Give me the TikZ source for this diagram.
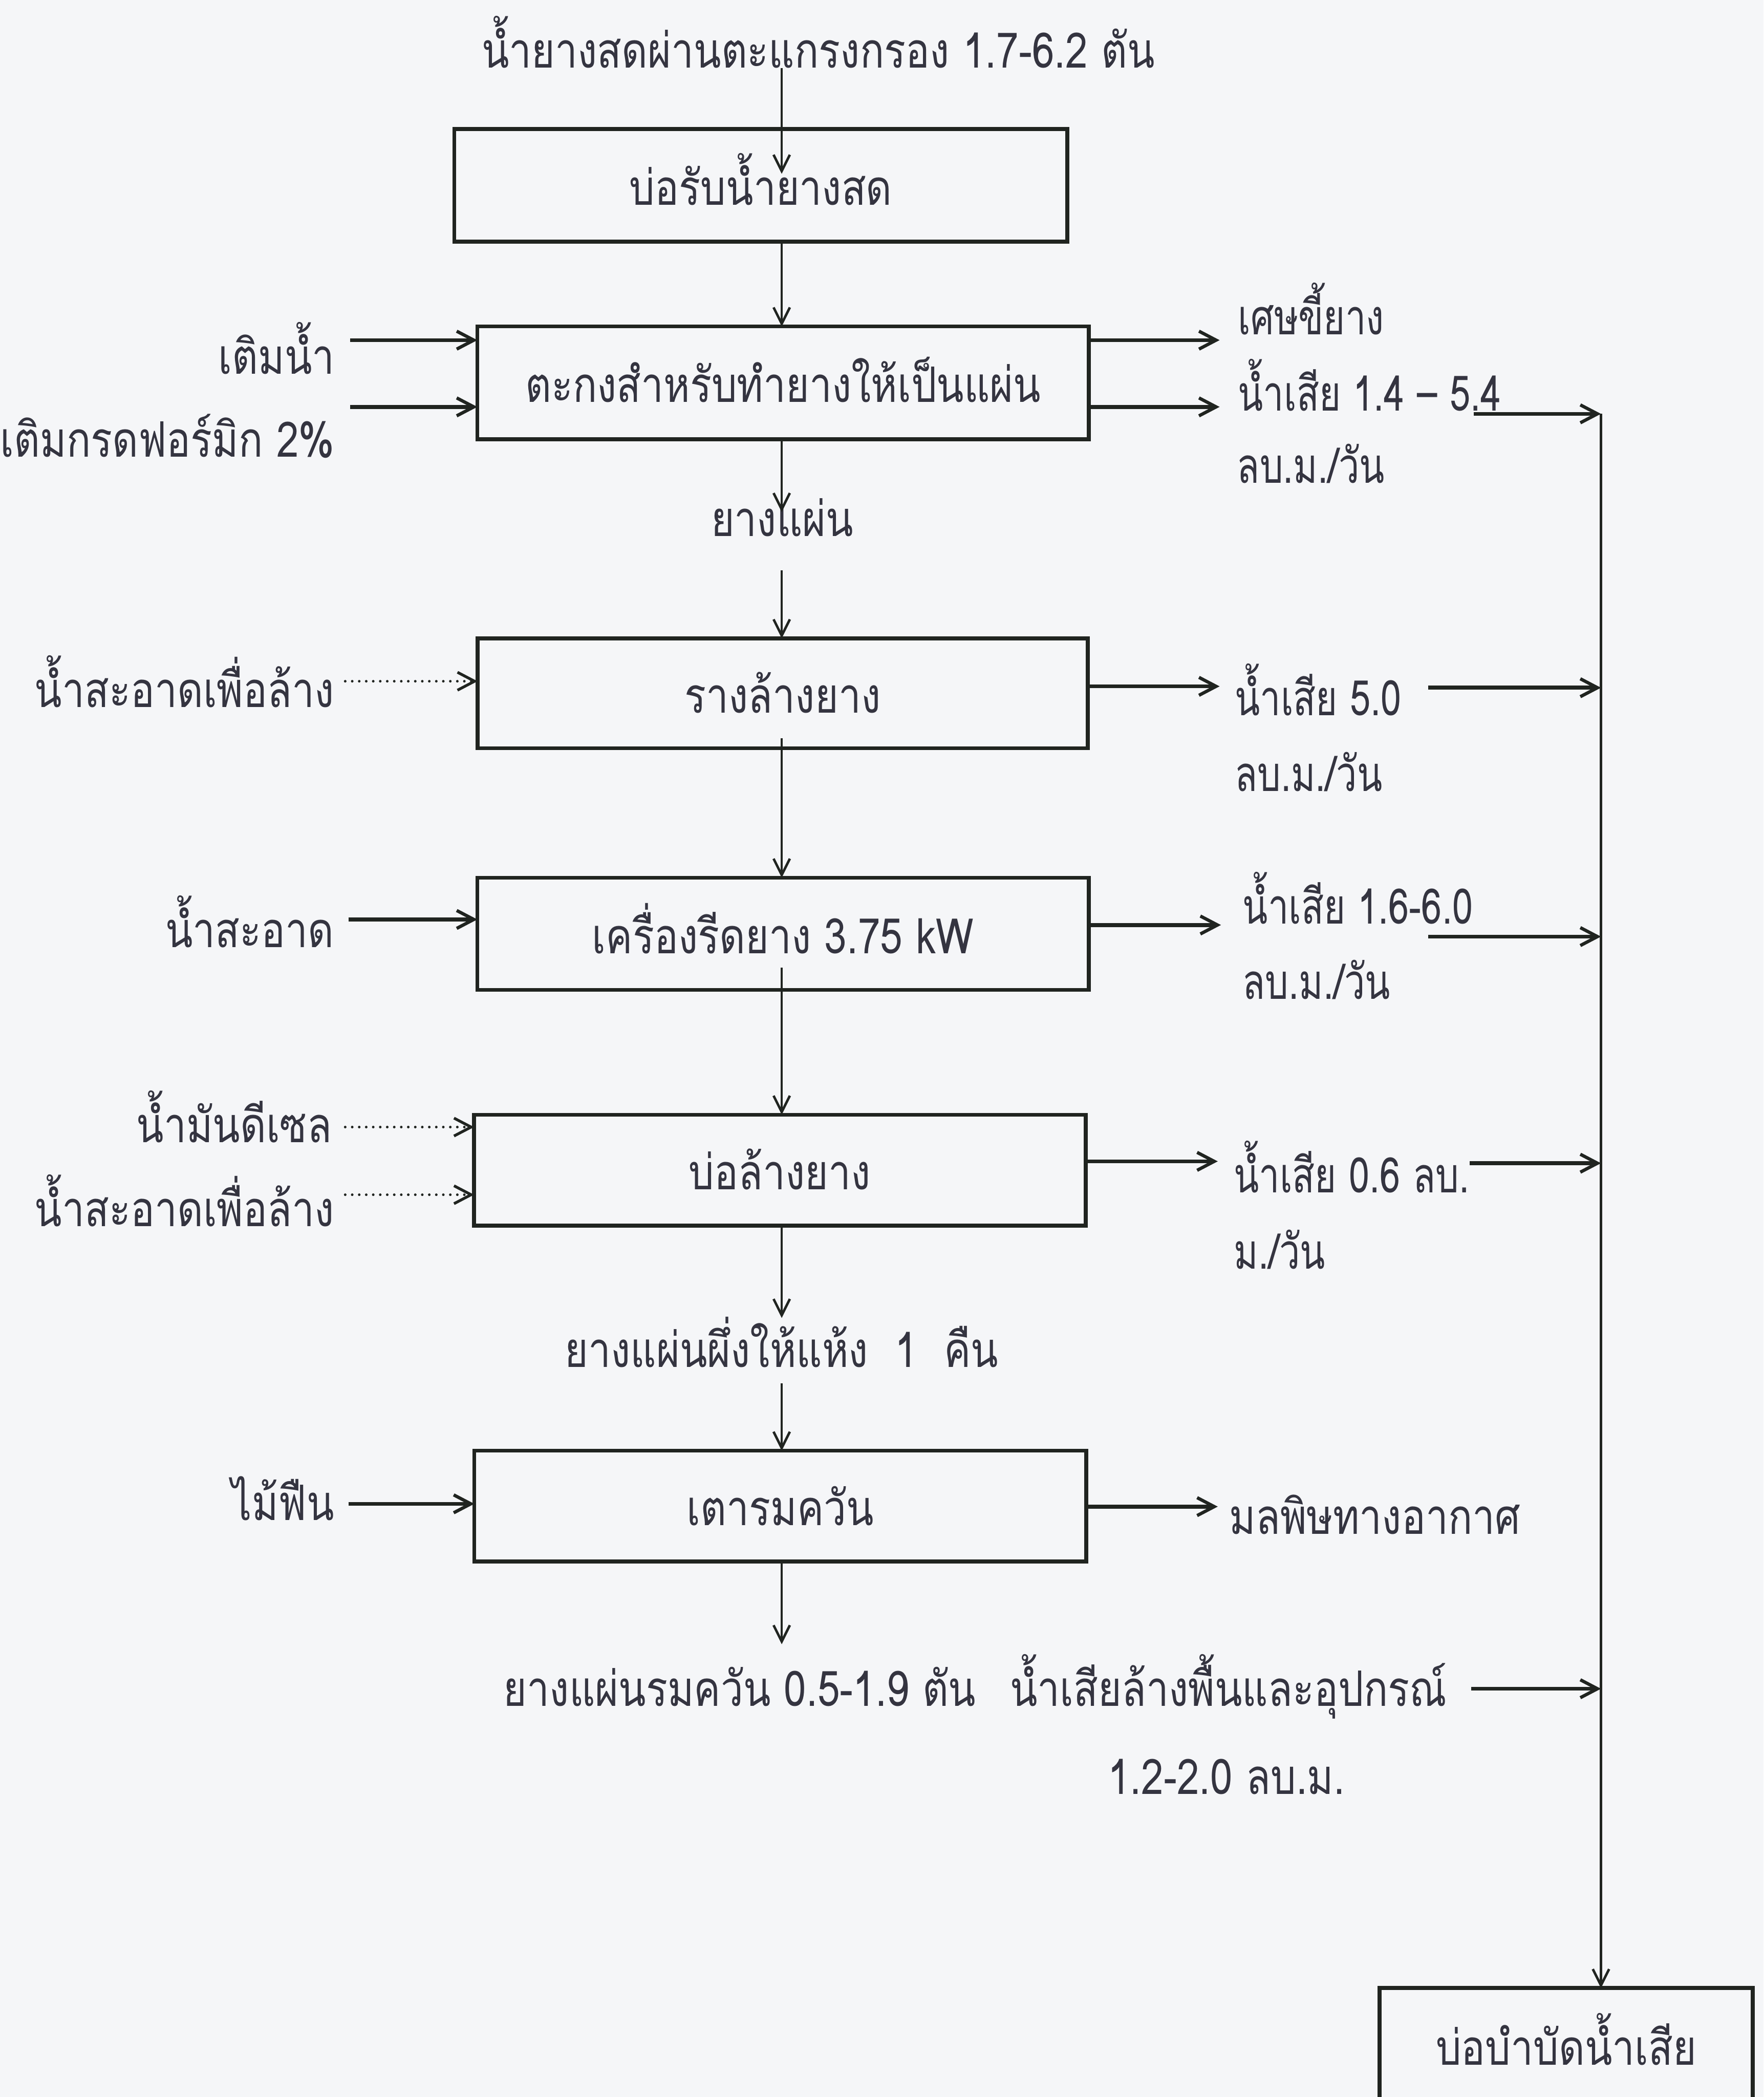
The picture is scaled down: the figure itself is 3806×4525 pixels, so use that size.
\documentclass[tikz,border=0pt]{standalone}
\usepackage{fontspec}
\newfontfamily\thaifont[Script=Thai,FakeStretch=0.82]{Loma}
\newfontfamily\thainarrow[Script=Thai,FakeStretch=0.755]{Loma}
\usetikzlibrary{arrows.meta,calc}
\definecolor{paper}{RGB}{245,246,248}
\definecolor{ink}{RGB}{52,52,64}
\definecolor{wire}{RGB}{32,36,32}
\begin{document}
\begin{tikzpicture}[x=0.01cm,y=-0.01cm,
  every node/.style={inner sep=0pt, outer sep=0pt, text=ink,
    font=\thaifont\fontsize{30}{36}\selectfont},
  narrow/.style={font=\thainarrow\fontsize{30}{36}\selectfont},
  box/.style={draw=wire, line width=2.4pt, text height=23.9pt, text depth=0pt},
  flow/.style={draw=wire, line width=1.5pt,
    -{Straight Barb[length=10pt,width=10pt,line width=1.5pt]}},
  feed/.style={draw=wire, line width=2.4pt,
    -{Straight Barb[length=10.5pt,width=11pt,line width=2pt]}},
  dotfeed/.style={draw=wire, line width=1.6pt, line cap=round,
    dash pattern=on 0pt off 4.3pt,
    -{Straight Barb[length=10.5pt,width=11pt,line width=1.7pt]}},
]
\fill[paper] (0,0) rectangle (3806,4525);
\useasboundingbox (0,0) rectangle (3806,4525);
\clip (0,0) rectangle (3806,4525);

% process boxes
\node[box, minimum width=13.22cm, minimum height=2.43cm] (b1) at (1642,400) {บ่อรับน้ำยางสด};
\node[box, minimum width=13.19cm, minimum height=2.43cm] (b2) at (1690,826) {ตะกงสำหรับทำยางให้เป็นแผ่น};
\node[box, minimum width=13.16cm, minimum height=2.37cm] (b3) at (1689,1496) {รางล้างยาง};
\node[box, minimum width=13.19cm, minimum height=2.42cm] (b4) at (1690,2015) {เครื่องรีดยาง 3.75 kW};
\node[box, minimum width=13.19cm, minimum height=2.39cm] (b5) at (1683,2525) {บ่อล้างยาง};
\node[box, minimum width=13.20cm, minimum height=2.39cm] (b6) at (1684,3250) {เตารมควัน};
\node[box, minimum width=8.05cm, minimum height=2.48cm] (b7) at (3380,4414) {บ่อบำบัดน้ำเสีย};

% product labels on the main line
\node[anchor=base] (top) at (1766,146) {น้ำยางสดผ่านตะแกรงกรอง 1.7-6.2 ตัน};
\node[anchor=base] (sheet) at (1688,1157) {ยางแผ่น};
\node[anchor=base] (dry) at (1687,2950) {ยางแผ่นผึ่งให้แห้ง\hspace{0.55em}1\hspace{0.55em}คืน};
\node[anchor=base west] (smoked) at (1087,3682) {ยางแผ่นรมควัน 0.5-1.9 ตัน};
\node[anchor=base west] (wash) at (2180,3682) {น้ำเสียล้างพื้นและอุปกรณ์};
\node[anchor=base west] (washq) at (2391,3871) {1.2-2.0 ลบ.ม.};

% inputs
\node[anchor=base east] (l1) at (722,807) {เติมน้ำ};
\node[anchor=base east] (l2) at (722,986) {เติมกรดฟอร์มิก 2\%};
\node[anchor=base east] (l3) at (721,1526) {น้ำสะอาดเพื่อล้าง};
\node[anchor=base east] (l4) at (721,2044) {น้ำสะอาด};
\node[anchor=base east] (l5) at (716,2465) {น้ำมันดีเซล};
\node[anchor=base east] (l6) at (721,2646) {น้ำสะอาดเพื่อล้าง};
\node[anchor=base east] (l7) at (721,3281) {ไม้ฟืน};

% outputs
\node[narrow, anchor=base west] (r1) at (2672,722) {เศษขี้ยาง};
\node[narrow, anchor=base west] (r2) at (2672,886) {น้ำเสีย 1.4 – 5.4};
\node[narrow, anchor=base west] (r2b) at (2670,1042) {ลบ.ม./วัน};
\node[narrow, anchor=base west] (r3) at (2665,1544) {น้ำเสีย 5.0};
\node[narrow, anchor=base west] (r3b) at (2665,1707) {ลบ.ม./วัน};
\node[narrow, anchor=base west] (r4) at (2682,1993) {น้ำเสีย 1.6-6.0};
\node[narrow, anchor=base west] (r4b) at (2682,2156) {ลบ.ม./วัน};
\node[narrow, anchor=base west] (r5) at (2663,2574) {น้ำเสีย 0.6 ลบ.};
\node[narrow, anchor=base west] (r5b) at (2663,2738) {ม./วัน};
\node[anchor=base west] (r6) at (2653,3310) {มลพิษทางอากาศ};

% reference points
\coordinate (col) at (1687,0);
\coordinate (bus) at (3455,0);
\coordinate (m1) at (1687,375);
\coordinate (m3) at (1687,1105);
\coordinate (m4) at (1687,1231);
\coordinate (m5) at (1687,1593);
\coordinate (m6) at (1687,2088);
\coordinate (m7) at (1687,2844);
\coordinate (m8) at (1687,2985);
\coordinate (m9) at (1687,3548);

% main product line
\draw[flow] (top.south -| col) -- (m1);
\draw[flow] (b1.south -| col) -- (b2.north -| col);
\draw[flow] (b2.south -| col) -- (m3);
\draw[flow] (m4) -- (b3.north -| col);
\draw[flow] (m5) -- (b4.north -| col);
\draw[flow] (m6) -- (b5.north -| col);
\draw[flow] (b5.south -| col) -- (m7);
\draw[flow] (m8) -- (b6.north -| col);
\draw[flow] (b6.south -| col) -- (m9);

% inputs into the boxes
\coordinate (f1) at (756,734);
\coordinate (f2) at (756,878);
\coordinate (f3) at (745,1470);
\coordinate (f4) at (752,1984);
\coordinate (f5) at (745,2432);
\coordinate (f6) at (745,2578);
\coordinate (f7) at (752,3245);
\draw[feed] (f1) -- (b2.west |- f1);
\draw[feed] (f2) -- (b2.west |- f2);
\draw[dotfeed] (f3) -- (b3.west |- f3);
\draw[feed] (f4) -- (b4.west |- f4);
\draw[dotfeed] (f5) -- (b5.west |- f5);
\draw[dotfeed] (f6) -- (b5.west |- f6);
\draw[feed] (f7) -- (b6.west |- f7);

% outputs from the boxes
\coordinate (o1) at (2632,734);
\coordinate (o2) at (2632,878);
\coordinate (o3) at (2632,1481);
\coordinate (o4) at (2635,1996);
\coordinate (o5) at (2628,2506);
\coordinate (o6) at (2628,3251);
\draw[feed] (b2.east |- o1) -- (o1);
\draw[feed] (b2.east |- o2) -- (o2);
\draw[feed] (b3.east |- o3) -- (o3);
\draw[feed] (b4.east |- o4) -- (o4);
\draw[feed] (b5.east |- o5) -- (o5);
\draw[feed] (b6.east |- o6) -- (o6);

% wastewater collector
\coordinate (w1) at (3180,893);
\coordinate (w2) at (3082,1484);
\coordinate (w3) at (3082,2021);
\coordinate (w4) at (3172,2510);
\coordinate (w5) at (3175,3644);
\draw[feed] (w1) -- (w1 -| bus);
\draw[feed] (w2) -- (w2 -| bus);
\draw[feed] (w3) -- (w3 -| bus);
\draw[feed] (w4) -- (w4 -| bus);
\draw[feed] (w5) -- (w5 -| bus);
\draw[flow] (w1 -| bus) -- (b7.north -| bus);
\end{tikzpicture}
\end{document}
